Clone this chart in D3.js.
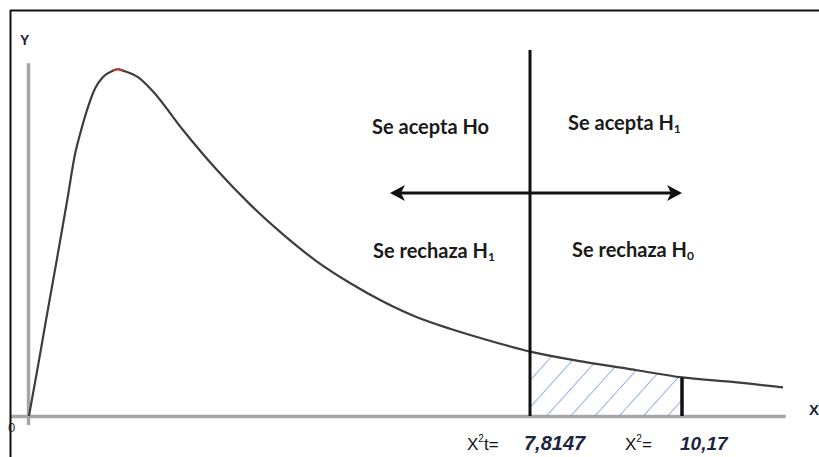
<!DOCTYPE html>
<html><head><meta charset="utf-8">
<script src="https://cdn.jsdelivr.net/npm/d3@7"></script>
<style>body{margin:0;background:#fff;} svg{display:block}</style>
</head><body>
<svg id="c" width="819" height="457"></svg>
<script>
// ---- data ----
const curveX = [0.05, 0.175, 0.33, 0.485, 0.64, 0.764, 0.872, 0.965, 1.074, 1.198, 1.35, 1.43, 1.51, 1.74, 1.973, 2.437, 2.964, 3.476, 3.987, 4.514, 5.025, 5.537, 6.064, 6.575, 7.086, 7.8147, 8.636, 9.473, 10.17, 10.914, 11.735];
const curveY = [0.000, 0.031, 0.071, 0.110, 0.150, 0.183, 0.202, 0.216, 0.229, 0.237, 0.2415, 0.2425, 0.2415, 0.237, 0.227, 0.200, 0.172, 0.148, 0.127, 0.108, 0.093, 0.080, 0.069, 0.061, 0.054, 0.045, 0.038, 0.032, 0.027, 0.024, 0.020];
const criticalValue = 7.8147;
const observedValue = 10.17;
const criticalLabel = "7,8147";
const observedLabel = "10,17";
const quadrantLabels = [
  {main: "Se acepta Ho", sub: ""},
  {main: "Se acepta H", sub: "1"},
  {main: "Se rechaza H", sub: "1"},
  {main: "Se rechaza H", sub: "0"}
];

const svg = d3.select('#c');
const x = d3.scaleLinear().domain([0, 12]).range([25.7, 800.1]);
const y = d3.scaleLinear().domain([0, 0.25]).range([416, 58.5]);
const pts = curveX.map((v, i) => ({x: v, y: curveY[i]}));

// hatch pattern
const defs = svg.append('defs');
const pat = defs.append('pattern').attr('id', 'hatch').attr('patternUnits', 'userSpaceOnUse')
  .attr('width', 18).attr('height', 18).attr('patternTransform', 'rotate(42)');
pat.append('line').attr('x1', 0).attr('y1', 0).attr('x2', 0).attr('y2', 18)
  .attr('stroke', '#6f9ad6').attr('stroke-width', 1.5);

// axes (no ticks)
const xAxisScale = d3.scaleLinear().domain([-0.24, 11.77]).range([x(-0.24), x(11.77)]);
svg.append('g').attr('transform', `translate(0,${y(0)})`)
  .call(d3.axisBottom(xAxisScale).tickValues([]).tickSizeOuter(0))
  .call(g => g.select('.domain').attr('stroke', '#a6a6a6').attr('stroke-width', 3.5));
const yAxisScale = d3.scaleLinear().domain([-0.006, 0.247]).range([y(-0.006), y(0.247)]);
svg.append('g').attr('transform', `translate(28,0)`)
  .call(d3.axisLeft(yAxisScale).tickValues([]).tickSizeOuter(0))
  .call(g => g.select('.domain').attr('stroke', '#a6a6a6').attr('stroke-width', 3.5));

// hatched area
const region = pts.filter(d => d.x >= criticalValue && d.x <= observedValue);
svg.append('path').datum(region)
  .attr('d', d3.area().x(d => x(d.x)).y0(y(0)).y1(d => y(d.y)).curve(d3.curveMonotoneX))
  .attr('fill', 'url(#hatch)');

// curve
const line = d3.line().x(d => x(d.x)).y(d => y(d.y)).curve(d3.curveMonotoneX);
svg.append('path').datum(pts).attr('d', line)
  .attr('fill', 'none').attr('stroke', '#3d3d3d').attr('stroke-width', 2.2);
// small red stretch at the peak
svg.append('path').datum(pts.filter(d => d.x >= 1.27 && d.x <= 1.55)).attr('d', line)
  .attr('fill', 'none').attr('stroke', '#c0392b').attr('stroke-width', 2.2);

// critical vertical line
svg.append('line').attr('x1', x(criticalValue)).attr('x2', x(criticalValue))
  .attr('y1', 50).attr('y2', y(0)).attr('stroke', '#111').attr('stroke-width', 3);
// observed value line
const obsY = pts.find(d => d.x === observedValue).y;
svg.append('line').attr('x1', x(observedValue)).attr('x2', x(observedValue))
  .attr('y1', y(obsY)).attr('y2', y(0)).attr('stroke', '#111').attr('stroke-width', 3.5);

// double arrow
const ay = 193, ax1 = 390, ax2 = x(observedValue);
svg.append('line').attr('x1', ax1 + 8).attr('x2', ax2 - 8).attr('y1', ay).attr('y2', ay)
  .attr('stroke', '#111').attr('stroke-width', 3);
const head = (tx, dir) => `M${tx},${ay} L${tx + dir*15},${ay-8} L${tx + dir*11},${ay} L${tx + dir*15},${ay+8} Z`;
svg.append('path').attr('d', head(ax1, 1)).attr('fill', '#111');
svg.append('path').attr('d', head(ax2, -1)).attr('fill', '#111');

// quadrant labels
const qpos = [[372, 134], [568, 130], [373, 258], [572, 257]];
quadrantLabels.forEach((q, i) => {
  const t = svg.append('text').attr('x', qpos[i][0]).attr('y', qpos[i][1])
    .attr('font-family', 'Lato, sans-serif').attr('font-weight', 700).attr('font-size', 20)
    .attr('fill', '#1a1a1a').text(q.main);
  if (q.sub) t.append('tspan').attr('font-size', 12).attr('dy', 3).text(q.sub);
});

// bottom labels
const bf = 'Liberation Sans, Arial, sans-serif';
const t1 = svg.append('text').attr('x', 467).attr('y', 450).attr('font-family', bf).attr('font-size', 17).attr('fill', '#111');
t1.append('tspan').text('X');
t1.append('tspan').attr('font-size', 10).attr('dy', -8).text('2');
t1.append('tspan').attr('dy', 8).text('t=');
svg.append('text').attr('x', x(criticalValue) - 6).attr('y', 450).attr('font-family', bf).attr('font-size', 20)
  .attr('font-weight', 700).attr('font-style', 'italic').attr('fill', '#1c2544').text(criticalLabel);
const t2 = svg.append('text').attr('x', 625).attr('y', 450).attr('font-family', bf).attr('font-size', 17).attr('fill', '#111');
t2.append('tspan').text('X');
t2.append('tspan').attr('font-size', 10).attr('dy', -8).text('2');
t2.append('tspan').attr('dy', 8).text('=');
svg.append('text').attr('x', x(observedValue) - 2).attr('y', 450).attr('font-family', bf).attr('font-size', 19)
  .attr('font-weight', 700).attr('font-style', 'italic').attr('fill', '#1c2544').text(observedLabel);

// axis letters
svg.append('text').attr('x', 20).attr('y', 45).attr('font-family', bf).attr('font-weight', 700)
  .attr('font-size', 14).attr('fill', '#1c2544').text('Y');
svg.append('text').attr('x', 809).attr('y', 415).attr('font-family', bf).attr('font-weight', 700)
  .attr('font-size', 15).attr('fill', '#1c2544').text('X');
svg.append('text').attr('x', 8).attr('y', 432).attr('font-family', bf)
  .attr('font-size', 13).attr('fill', '#333').text('0');

// frame
svg.append('line').attr('x1', 10).attr('x2', 819).attr('y1', 10.5).attr('y2', 10.5).attr('stroke', '#111').attr('stroke-width', 2);
svg.append('line').attr('x1', 10.5).attr('x2', 10.5).attr('y1', 10).attr('y2', 457).attr('stroke', '#111').attr('stroke-width', 2);
</script>
</body></html>
